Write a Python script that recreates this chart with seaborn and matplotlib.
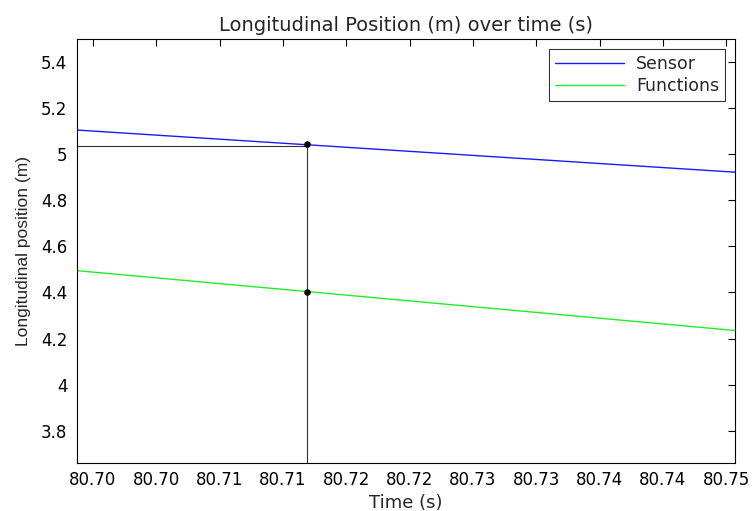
import numpy as np
import pandas as pd
import seaborn as sns
import matplotlib
matplotlib.use("Agg")
import matplotlib.pyplot as plt
from matplotlib.ticker import FormatStrFormatter

# Data
time_s = [80.6977, 80.7159, 80.7497]
sensor = [5.105, 5.041, 4.922]
functions = [4.495, 4.404, 4.235]

# data tip at the cursor
tip_time = 80.7159
tip_sensor = 5.043
tip_functions = 4.404
tip_hline = 5.035

x_ticks = [80.699 + 0.005 * k for k in range(11)]
y_ticks = [3.8, 4.0, 4.2, 4.4, 4.6, 4.8, 5.0, 5.2, 5.4]

df = pd.DataFrame({
    "Time": time_s * 2,
    "Position": sensor + functions,
    "Series": ["Sensor"] * len(time_s) + ["Functions"] * len(time_s),
})

sns.set_style("white")
plt.rcParams["font.family"] = ["DejaVu Sans"]

fig = plt.figure(figsize=(7.52, 5.11), dpi=100)
ax = fig.add_axes([0.1024, 0.0939, 0.8750, 0.8298])

sns.lineplot(data=df, x="Time", y="Position", hue="Series",
             palette={"Sensor": "#1a1aff", "Functions": "#22ee22"},
             linewidth=1.0, ax=ax)

xmin, xmax = 80.69774, 80.7497
ymin, ymax = 3.66, 5.5

# data tip cursor lines
ax.plot([xmin, tip_time], [tip_hline, tip_hline], color="#333333", linewidth=0.8)
ax.plot([tip_time, tip_time], [ymin, tip_sensor], color="#333333", linewidth=0.8)
ax.scatter([tip_time, tip_time], [tip_sensor, tip_functions], color="black", s=14, zorder=5)

ax.set_xlim(xmin, xmax)
ax.set_ylim(ymin, ymax)
ax.set_xticks(x_ticks)
ax.set_yticks(y_ticks)
ax.xaxis.set_major_formatter(FormatStrFormatter("%.2f"))
ax.yaxis.set_major_formatter(plt.FuncFormatter(lambda v, p: f"{v:g}"))

ax.tick_params(direction="in", length=5, width=0.8, top=True, right=True,
               labelsize=12, colors="black", pad=7)
ax.tick_params(axis="x", pad=6)
for s in ax.spines.values():
    s.set_visible(True)
    s.set_color("black")
    s.set_linewidth(0.8)

ax.set_title("Longitudinal Position (m) over time (s)", fontsize=14, pad=6)
ax.set_xlabel("Time (s)", fontsize=13, labelpad=3)
ax.set_ylabel("Longitudinal position (m)", fontsize=12.5,
              family=["Liberation Sans", "DejaVu Sans"], labelpad=7)

leg = ax.legend(loc="upper right", fontsize=12.5, frameon=True, fancybox=False,
                edgecolor="black", handlelength=4.0, handletextpad=0.7,
                borderaxespad=0.55, labelspacing=0.25, borderpad=0.35)
leg.get_frame().set_linewidth(0.8)

fig.savefig("out.png", dpi=100)
